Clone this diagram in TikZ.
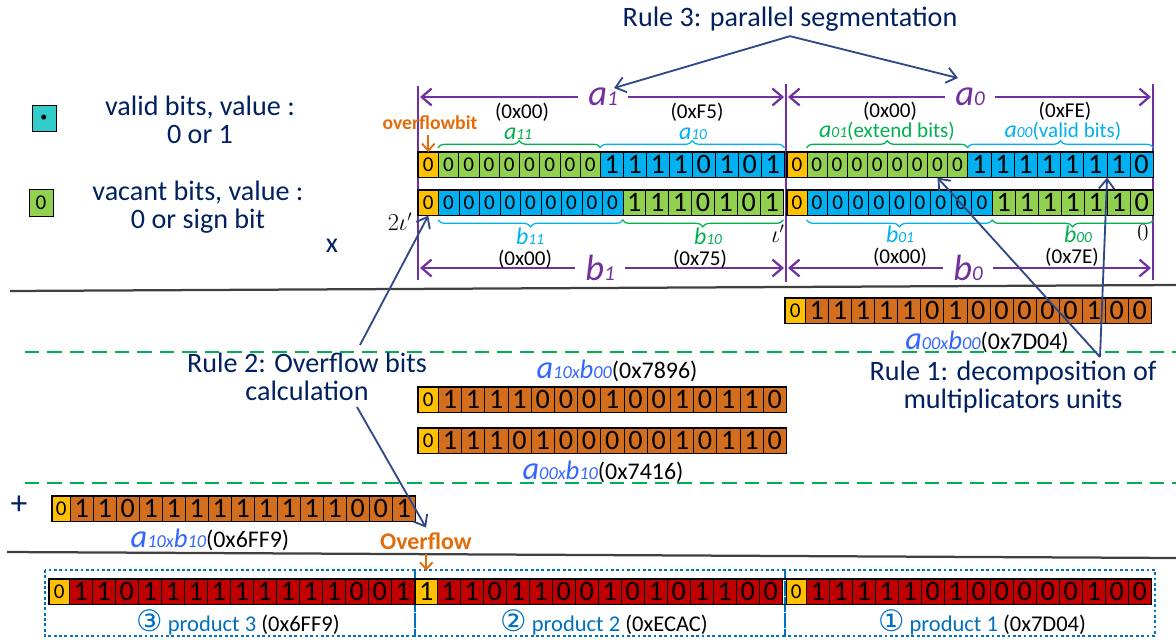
\documentclass[tikz,border=0pt]{standalone}
\usepackage{fontspec}
\setmainfont{Carlito}
\newfontfamily\circfont{DejaVu Sans}
\usepackage{tikz}
\usetikzlibrary{arrows.meta,positioning,calc,decorations.pathreplacing}
\definecolor{signorange}{RGB}{255,192,0}
\definecolor{vacgreen}{RGB}{146,208,80}
\definecolor{validblue}{RGB}{0,176,240}
\definecolor{legcyan}{RGB}{51,204,204}
\definecolor{prodorange}{RGB}{210,110,30}
\definecolor{prodred}{RGB}{192,0,0}
\definecolor{navytext}{RGB}{0,32,96}
\definecolor{navyline}{RGB}{47,72,136}
\definecolor{dimpurple}{RGB}{112,48,160}
\definecolor{extgreen}{RGB}{0,176,80}
\definecolor{labelblue}{RGB}{51,102,255}
\definecolor{prodblue}{RGB}{0,112,192}
\definecolor{flaggold}{RGB}{226,107,10}
\definecolor{rulegray}{RGB}{64,64,64}

% one run of bit cells: name prefix, x, y (top), cell width, style, digits
\newcommand{\bitrow}[6]{%
  \foreach \d [count=\k from 0] in {#6}
    \node[#5, minimum width=#4*0.025cm, anchor=north west] (#1\k) at ({#2+\k*#4},#3) {\d};%
}
% italic operand name with its index
\newcommand{\sublab}[2]{{\itshape\fontsize{17}{17}\selectfont #1\fontsize{11}{11}\selectfont #2}}
% partial product label
\newcommand{\prodlab}[3]{{\color{labelblue}\itshape\fontsize{23}{23}\selectfont a\fontsize{13}{13}\selectfont #1x\fontsize{19}{19}\selectfont b\fontsize{13}{13}\selectfont #2}\fontsize{17}{17}\selectfont(#3)}

\begin{document}
\begin{tikzpicture}[x=0.025cm, y=-0.025cm,
    bit/.style={draw=black, line width=0.4pt, inner sep=0pt, minimum height=0.625cm},
    bitsm/.style={bit, font=\fontsize{15}{15}\selectfont},
    bitlg/.style={bit, font=\fontsize{20}{20}\selectfont},
    sgn/.style={bitsm, fill=signorange},
    sgnbig/.style={bitlg, fill=signorange},
    vac/.style={bitsm, fill=vacgreen},
    vacbig/.style={bitlg, fill=vacgreen},
    val/.style={bitlg, fill=validblue},
    valsm/.style={bitsm, fill=validblue},
    prod/.style={bitlg, fill=prodorange},
    fin/.style={bitlg, fill=prodred},
    rowframe/.style={draw=black, line width=1.1pt},
    dimline/.style={dimpurple, line width=1.6pt},
    dimarrow/.style={dimline, {Straight Barb[length=7pt,width=12pt]}-{Straight Barb[length=7pt,width=12pt]}},
    dimlab/.style={fill=white, text=dimpurple, inner xsep=7pt, inner ysep=0pt, font=\itshape\fontsize{26}{26}\selectfont},
    segbrace/.style={decorate, decoration={brace, amplitude=5pt}, line width=0.9pt},
    navy/.style={text=navytext, font=\fontsize{20}{20}\selectfont},
    rulearrow/.style={navyline, line width=1.3pt, -{Straight Barb[length=7pt,width=11pt]}},
    hexlab/.style={inner sep=0pt, font=\fontsize{15}{15}\selectfont},
    flag/.style={text=flaggold, font=\bfseries\fontsize{14}{14}\selectfont},
    flagarrow/.style={flaggold, line width=1.3pt, -{Straight Barb[length=5pt,width=9pt]}},
    sepline/.style={rulegray, line width=1.6pt},
    stageline/.style={extgreen, line width=1.3pt, dash pattern=on 10pt off 6pt},
    prodbox/.style={prodblue, line width=2.1pt, dash pattern=on 2pt off 1.8pt},
    prodtxt/.style={inner sep=0pt, font=\fontsize{16}{16}\selectfont}
  ]
  \useasboundingbox (0,0) rectangle (1176,639);

  % legend
  \node[bit, fill=legcyan, minimum width=0.6cm, minimum height=0.65cm, font=\fontsize{10}{10}\selectfont] (legv) at (44,118) {\textbullet};
  \node[bitsm, fill=vacgreen, minimum width=0.6cm, minimum height=0.67cm] (legz) at (41,203) {0};
  \node[navy, align=center] (legvt) at (200,120) {valid bits, value :\\0 or 1};
  \node[navy, align=center] (legzt) at (198,207) {vacant bits, value :\\0 or sign bit};
  \node[navy] (times) at (332,246) {x};
  \node[navy, font=\fontsize{24}{24}\selectfont] (plus) at (19,505) {+};

  % separators
  \draw[sepline] (10,291) -- (1176,285);
  \draw[sepline] (7,552) -- (1176,558);
  \draw[stageline] (25,352) -- (1176,352);
  \draw[stageline] (25,483) -- (1176,483);

  % segment bounds
  \draw[dimline] (418,86) -- (418,280);
  \draw[dimline] (786,84) -- (786,282);
  \draw[dimline] (1153,84) -- (1153,280);

  % operand a
  \bitrow{a1s}{418}{152}{20}{sgn}{0}
  \bitrow{a11c}{438}{152}{20.25}{vac}{0,0,0,0,0,0,0,0}
  \bitrow{a10c}{600}{152}{23}{val}{1,1,1,1,0,1,0,1}
  \bitrow{a0s}{787}{152}{19.5}{sgn}{0}
  \bitrow{a01c}{806.5}{152}{20.1}{vac}{0,0,0,0,0,0,0,0}
  \bitrow{a00c}{967.3}{152}{23.2}{val}{1,1,1,1,1,1,1,0}
  \draw[rowframe] (a1s0.north west) rectangle (a10c7.south east);
  \draw[rowframe] (a0s0.north west) rectangle (a00c7.south east);

  % operand b
  \bitrow{b1s}{418}{190}{20}{sgn}{0}
  \bitrow{b11c}{438}{190}{20.5}{valsm}{0,0,0,0,0,0,0,0,0}
  \bitrow{b10c}{622.5}{190}{22.9}{vacbig}{1,1,1,0,1,0,1}
  \bitrow{b0s}{787}{190}{19.5}{sgn}{0}
  \bitrow{b01c}{806.5}{190}{20.6}{valsm}{0,0,0,0,0,0,0,0,0}
  \bitrow{b00c}{991.9}{190}{23}{vacbig}{1,1,1,1,1,1,0}
  \draw[rowframe] (b1s0.north west) rectangle (b10c6.south east);
  \draw[rowframe] (b0s0.north west) rectangle (b00c6.south east);

  % widths of a and b
  \draw[dimarrow] (420,97) -- (784,97);
  \draw[dimarrow] (788,97) -- (1151,97);
  \draw[dimarrow] (420,268) -- (784,268);
  \draw[dimarrow] (788,268) -- (1151,268);
  \node[dimlab] (a1lab) at (603,97) {a\fontsize{15}{15}\selectfont 1};
  \node[dimlab] (a0lab) at (970,97) {a\fontsize{15}{15}\selectfont 0};
  \node[dimlab] (b1lab) at (600,268) {b\fontsize{15}{15}\selectfont 1};
  \node[dimlab] (b0lab) at (968,268) {b\fontsize{15}{15}\selectfont 0};

  % sub-fields of a
  \draw[segbrace, extgreen] ([yshift=3pt]a11c0.north west) -- ([yshift=3pt]a11c7.north east);
  \draw[segbrace, validblue] ([yshift=3pt]a10c0.north west) -- ([yshift=3pt]a10c7.north east);
  \draw[segbrace, extgreen] ([yshift=3pt]a01c0.north west) -- ([yshift=3pt]a01c7.north east);
  \draw[segbrace, validblue] ([yshift=3pt]a00c0.north west) -- ([yshift=3pt]a00c7.north east);
  \node[hexlab] (a11hex) at (522,112) {(0x00)};
  \node[hexlab] (a10hex) at (697,112) {(0xF5)};
  \node[hexlab] (a01hex) at (890,111) {(0x00)};
  \node[hexlab] (a00hex) at (1065,111) {(0xFE)};
  \node[inner sep=0pt, text=extgreen] (a11lab) at (518,134) {\sublab{a}{11}};
  \node[inner sep=0pt, text=validblue] (a10lab) at (693,134) {\sublab{a}{10}};
  \node[inner sep=0pt, text=extgreen, font=\fontsize{15}{15}\selectfont] (a01lab) at (887,131) {\sublab{a}{01}(extend bits)};
  \node[inner sep=0pt, text=validblue, font=\fontsize{15}{15}\selectfont] (a00lab) at (1063,131) {\sublab{a}{00}(valid bits)};

  % sub-fields of b
  \draw[segbrace, validblue] ([yshift=-3pt]b11c8.south east) -- ([yshift=-3pt]b11c0.south west);
  \draw[segbrace, extgreen] ([yshift=-3pt]b10c6.south east) -- ([yshift=-3pt]b10c0.south west);
  \draw[segbrace, validblue] ([yshift=-3pt]b01c8.south east) -- ([yshift=-3pt]b01c0.south west);
  \draw[segbrace, extgreen] ([yshift=-3pt]b00c6.south east) -- ([yshift=-3pt]b00c0.south west);
  \node[inner sep=0pt, text=validblue] (b11lab) at (530,236) {\sublab{b}{11}};
  \node[inner sep=0pt, text=extgreen] (b10lab) at (708,236) {\sublab{b}{10}};
  \node[inner sep=0pt, text=validblue] (b01lab) at (900,234) {\sublab{b}{01}};
  \node[inner sep=0pt, text=extgreen] (b00lab) at (1078,234) {\sublab{b}{00}};
  \node[hexlab] (b11hex) at (525,259) {(0x00)};
  \node[hexlab] (b10hex) at (700,259) {(0x75)};
  \node[hexlab] (b01hex) at (900,257) {(0x00)};
  \node[hexlab] (b00hex) at (1072,257) {(0x7E)};
  \node[inner sep=0pt, font=\fontsize{16}{16}\selectfont] (iota2) at (400,222) {$2\iota'$};
  \node[inner sep=0pt, font=\fontsize{16}{16}\selectfont] (iota1) at (778,234) {$\iota'$};
  \node[inner sep=0pt, font=\fontsize{16}{16}\selectfont] (zero) at (1143,233) {$0$};

  % overflow bit of a
  \node[flag] (ovb) at (430,123) {overflowbit};
  \draw[flagarrow] (ovb.south -| a1s0) -- (a1s0.north);

  % partial products
  \bitrow{p1s}{785}{298}{20}{sgn}{0}
  \bitrow{p1c}{805}{298}{23.07}{prod}{1,1,1,1,1,0,1,0,0,0,0,0,1,0,0}
  \draw[rowframe] (p1s0.north west) rectangle (p1c14.south east);
  \node[inner sep=0pt] (p1lab) at (987,342) {\prodlab{00}{00}{0x7D04}};

  \bitrow{p2s}{418}{387}{20}{sgn}{0}
  \bitrow{p2c}{438}{387}{23.2}{prod}{1,1,1,1,0,0,0,1,0,0,1,0,1,1,0}
  \draw[rowframe] (p2s0.north west) rectangle (p2c14.south east);
  \node[inner sep=0pt] (p2lab) at (617,371) {\prodlab{10}{00}{0x7896}};

  \bitrow{p3s}{418}{428}{20}{sgn}{0}
  \bitrow{p3c}{438}{428}{23.2}{prod}{1,1,1,0,1,0,0,0,0,0,1,0,1,1,0}
  \draw[rowframe] (p3s0.north west) rectangle (p3c14.south east);
  \node[inner sep=0pt] (p3lab) at (603,472) {\prodlab{00}{10}{0x7416}};

  \bitrow{p4s}{52}{496}{18}{sgn}{0}
  \bitrow{p4c}{70}{496}{23}{prod}{1,1,0,1,1,1,1,1,1,1,1,1,0,0,1}
  \draw[rowframe] (p4s0.north west) rectangle (p4c14.south east);
  \node[inner sep=0pt] (p4lab) at (210,540) {\prodlab{10}{10}{0x6FF9}};

  % packed result
  \draw[prodbox] (45,570) rectangle (415,636);
  \draw[prodbox] (415,570) rectangle (785,636);
  \draw[prodbox] (785,570) rectangle (1155,636);
  \bitrow{r3s}{49}{579}{20}{sgn}{0}
  \bitrow{r3c}{69}{579}{23}{fin}{1,1,0,1,1,1,1,1,1,1,1,1,0,0,1}
  \bitrow{r2s}{415}{579}{22}{sgnbig}{1}
  \bitrow{r2c}{437}{579}{23}{fin}{1,1,0,1,1,0,0,1,0,1,0,1,1,0,0}
  \bitrow{r1s}{786}{579}{20}{sgn}{0}
  \bitrow{r1c}{806}{579}{23}{fin}{1,1,1,1,1,0,1,0,0,0,0,0,1,0,0}
  \draw[rowframe] (r3s0.north west) rectangle (r1c14.south east);
  \node[prodtxt] (r3lab) at (238,622) {\textcolor{prodblue}{{\circfont\fontsize{21}{21}\selectfont ③} product 3} (0x6FF9)};
  \node[prodtxt] (r2lab) at (604,622) {\textcolor{prodblue}{{\circfont\fontsize{21}{21}\selectfont ②} product 2} (0xECAC)};
  \node[prodtxt] (r1lab) at (982,622) {\textcolor{prodblue}{{\circfont\fontsize{21}{21}\selectfont ①} product 1} (0x7D04)};

  \node[flag, font=\bfseries\fontsize{17}{17}\selectfont] (ovf) at (426,541) {Overflow};
  \draw[flagarrow, shorten >=6pt] (ovf.south -| r2s0) -- (r2s0.north);

  % the three rules
  \node[navy] (rule3) at (790,19) {Rule 3: parallel segmentation};
  \coordinate (r3t1) at (614,88);
  \coordinate (r3t0) at (958,78);
  \draw[rulearrow] (rule3.south) -- (r3t1);
  \draw[rulearrow] (rule3.south) -- (r3t0);

  \node[navy, align=center] (rule1) at (1013,387) {Rule 1: decomposition of\\multiplicators units};
  \coordinate (r1o) at (1100,357);
  \draw[rulearrow] (r1o) -- (a00c5.south east);
  \draw[rulearrow] (r1o) -- (a01c6.south);

  \node[navy, align=center] (rule2) at (307,377) {Rule 2: Overflow bits\\calculation};
  \coordinate (r2o1) at (360,345);
  \coordinate (r2o2) at (357,407);
  \draw[rulearrow] (r2o1) -- (b1s0.south);
  \draw[rulearrow] (r2o2) -- (ovf.north);
\end{tikzpicture}
\end{document}
